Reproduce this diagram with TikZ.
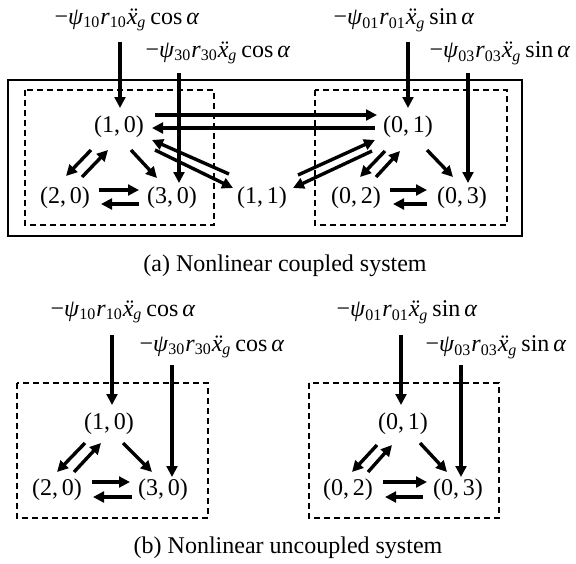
\documentclass[tikz,border=0pt]{standalone}
\usepackage{fontspec}
\setmainfont{Liberation Serif}
\usetikzlibrary{arrows.meta,calc}

% forcing term: -psi_{ij} r_{ij} xdd_g trig(alpha)
\newcommand{\forcing}[2]{−\textit{ψ}\textsubscript{#1}\textit{r}\textsubscript{#1}\textit{\"x}\textsubscript{\textit{g}}\,#2\,\textit{α}}
\newcommand{\state}[2]{(#1,\,#2)}

\tikzset{
  txt/.style={font=\fontsize{12}{14}\selectfont, inner sep=1pt},
  arr/.style={-{Triangle[length=5.5pt,width=5.4pt]}, line width=1.7pt},
  group/.style={line width=1pt, dash pattern=on 3pt off 2pt},
  frame/.style={line width=1.1pt}
}

\begin{document}
\begin{tikzpicture}[x=0.5pt, y=-0.5pt, every node/.style={txt}]
    \useasboundingbox (0,0) rectangle (576,563);

    % (a) coupled
    \node (L10) at (127,20) {\forcing{10}{cos}};
    \node (L30) at (218,53) {\forcing{30}{cos}};
    \node (L01) at (404,20) {\forcing{01}{sin}};
    \node (L03) at (500,53) {\forcing{03}{sin}};

    \node (A10) at (119,127) {\state{1}{0}};
    \node (A20) at (65,198) {\state{2}{0}};
    \node (A30) at (172,198) {\state{3}{0}};
    \node (A11) at (262,198) {\state{1}{1}};
    \node (A01) at (408,127) {\state{0}{1}};
    \node (A02) at (356,198) {\state{0}{2}};
    \node (A03) at (462,198) {\state{0}{3}};

    \draw[frame] (8,80) rectangle (522,236);
    \draw[group] (25,90) rectangle (214,225);
    \draw[group] (315,90) rectangle (507,225);

    \draw[arr] ($(L10 -| A10)+(1,22)$) -- ([shift={(1,-19)}]A10.center);
    \draw[arr] ($(L30 -| A30)+(7,20)$) -- ([shift={(7,-15)}]A30.center);
    \draw[arr] ($(L01 -| A01)+(0,22)$) -- ([shift={(0,-19)}]A01.center);
    \draw[arr] ($(L03 -| A03)+(6,20)$) -- ([shift={(6,-15)}]A03.center);

    \draw[arr] ([shift={(36,-12)}]A10.center) -- ([shift={(-31,-12)}]A01.center);
    \draw[arr] ([shift={(-33,1)}]A01.center) -- ([shift={(33,1)}]A10.center);
    \draw[arr] ([shift={(36,23)}]A10.center) -- ([shift={(-29,-10)}]A11.center);
    \draw[arr] ([shift={(-33,-24)}]A11.center) -- ([shift={(33,13)}]A10.center);
    \draw[arr] ([shift={(36,-23)}]A11.center) -- ([shift={(-33,13)}]A01.center);
    \draw[arr] ([shift={(-36,24)}]A01.center) -- ([shift={(31,-10)}]A11.center);

    \draw[arr] ([shift={(-28,23)}]A10.center) -- ([shift={(1,-22)}]A20.center);
    \draw[arr] ([shift={(17,-21)}]A20.center) -- ([shift={(-11,23)}]A10.center);
    \draw[arr] ([shift={(12,23)}]A10.center) -- ([shift={(-15,-20)}]A30.center);
    \draw[arr] ([shift={(34,-8)}]A20.center) -- ([shift={(-33,-8)}]A30.center);
    \draw[arr] ([shift={(-33,6)}]A30.center) -- ([shift={(36,6)}]A20.center);

    \draw[arr] ([shift={(-23,24)}]A01.center) -- ([shift={(4,-21)}]A02.center);
    \draw[arr] ([shift={(20,-21)}]A02.center) -- ([shift={(-8,24)}]A01.center);
    \draw[arr] ([shift={(19,23)}]A01.center) -- ([shift={(-9,-21)}]A03.center);
    \draw[arr] ([shift={(34,-8)}]A02.center) -- ([shift={(-35,-8)}]A03.center);
    \draw[arr] ([shift={(-35,6)}]A03.center) -- ([shift={(37,6)}]A02.center);

    \node (capA) at (285,266) {(a) Nonlinear coupled system};

    % (b) uncoupled
    \node (M10) at (123,312) {\forcing{10}{cos}};
    \node (M30) at (212,347) {\forcing{30}{cos}};
    \node (M01) at (407,312) {\forcing{01}{sin}};
    \node (M03) at (496,347) {\forcing{03}{sin}};

    \node (B10) at (109,424) {\state{1}{0}};
    \node (B20) at (57,490) {\state{2}{0}};
    \node (B30) at (163,490) {\state{3}{0}};
    \node (B01) at (403,424) {\state{0}{1}};
    \node (B02) at (348,490) {\state{0}{2}};
    \node (B03) at (458,490) {\state{0}{3}};

    \draw[group] (17,383) rectangle (208,518);
    \draw[group] (309,383) rectangle (499,518);

    \draw[arr] ($(M10 -| B10)+(3,23)$) -- ([shift={(3,-19)}]B10.center);
    \draw[arr] ($(M30 -| B30)+(9,18)$) -- ([shift={(9,-13)}]B30.center);
    \draw[arr] ($(M01 -| B01)+(-2,23)$) -- ([shift={(-2,-19)}]B01.center);
    \draw[arr] ($(M03 -| B03)+(3,18)$) -- ([shift={(3,-13)}]B03.center);

    \draw[arr] ([shift={(-24,19)}]B10.center) -- ([shift={(0,-18)}]B20.center);
    \draw[arr] ([shift={(17,-18)}]B20.center) -- ([shift={(-8,19)}]B10.center);
    \draw[arr] ([shift={(14,19)}]B10.center) -- ([shift={(-11,-18)}]B30.center);
    \draw[arr] ([shift={(35,-8)}]B20.center) -- ([shift={(-33,-8)}]B30.center);
    \draw[arr] ([shift={(-31,7)}]B30.center) -- ([shift={(36,7)}]B20.center);

    \draw[arr] ([shift={(-26,21)}]B01.center) -- ([shift={(4,-18)}]B02.center);
    \draw[arr] ([shift={(20,-18)}]B02.center) -- ([shift={(-11,21)}]B01.center);
    \draw[arr] ([shift={(17,19)}]B01.center) -- ([shift={(-11,-18)}]B03.center);
    \draw[arr] ([shift={(35,-8)}]B02.center) -- ([shift={(-31,-8)}]B03.center);
    \draw[arr] ([shift={(-35,7)}]B03.center) -- ([shift={(37,7)}]B02.center);

    \node (capB) at (288,548) {(b) Nonlinear uncoupled system};
\end{tikzpicture}
\end{document}
